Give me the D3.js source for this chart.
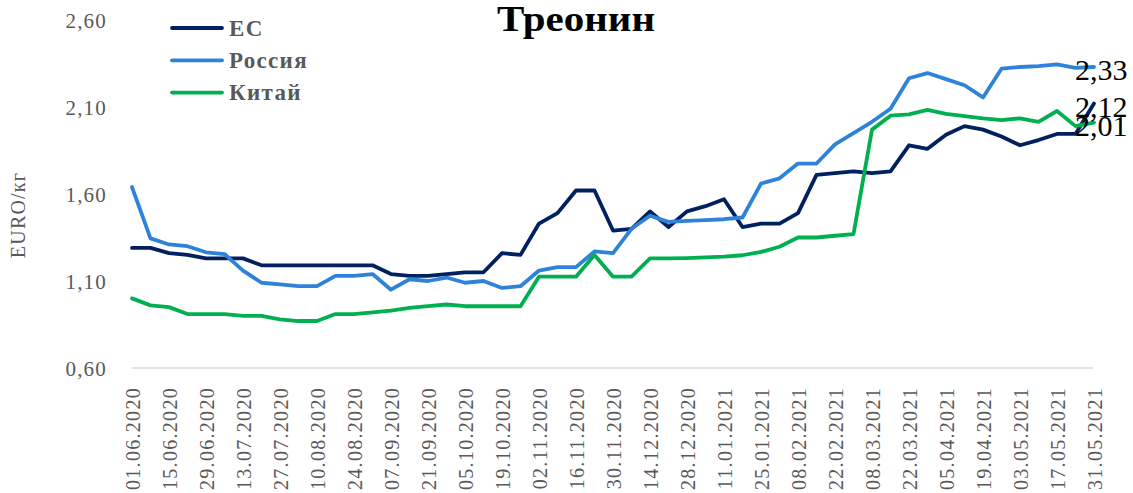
<!DOCTYPE html>
<html><head><meta charset="utf-8">
<script src="https://cdn.jsdelivr.net/npm/d3@7"></script>
<style>
html,body{margin:0;padding:0;background:#fff;}
svg{display:block;font-family:"Liberation Serif","Times New Roman",serif;}
</style></head>
<body><svg id="c" width="1133" height="493"></svg>
<script>
const dates = ["01.06.2020","08.06.2020","15.06.2020","22.06.2020","29.06.2020","06.07.2020","13.07.2020","20.07.2020","27.07.2020","03.08.2020","10.08.2020","17.08.2020","24.08.2020","31.08.2020","07.09.2020","14.09.2020","21.09.2020","28.09.2020","05.10.2020","12.10.2020","19.10.2020","26.10.2020","02.11.2020","09.11.2020","16.11.2020","23.11.2020","30.11.2020","07.12.2020","14.12.2020","21.12.2020","28.12.2020","04.01.2021","11.01.2021","18.01.2021","25.01.2021","01.02.2021","08.02.2021","15.02.2021","22.02.2021","01.03.2021","08.03.2021","15.03.2021","22.03.2021","29.03.2021","05.04.2021","12.04.2021","19.04.2021","26.04.2021","03.05.2021","10.05.2021","17.05.2021","24.05.2021","31.05.2021"];
const eu = [1.29,1.29,1.26,1.25,1.23,1.23,1.23,1.19,1.19,1.19,1.19,1.19,1.19,1.19,1.14,1.13,1.13,1.14,1.15,1.15,1.26,1.25,1.43,1.49,1.62,1.62,1.39,1.40,1.50,1.41,1.50,1.53,1.57,1.41,1.43,1.43,1.49,1.71,1.72,1.73,1.72,1.73,1.88,1.86,1.94,1.99,1.97,1.93,1.88,1.91,1.945,1.945,2.12];
const russia = [1.64,1.345,1.31,1.30,1.265,1.255,1.16,1.09,1.08,1.07,1.07,1.13,1.13,1.14,1.05,1.11,1.10,1.12,1.09,1.10,1.06,1.07,1.16,1.18,1.18,1.27,1.26,1.40,1.475,1.44,1.445,1.45,1.455,1.465,1.66,1.69,1.775,1.775,1.885,1.95,2.015,2.09,2.265,2.295,2.26,2.225,2.155,2.32,2.33,2.335,2.345,2.325,2.33];
const china = [1.00,0.96,0.95,0.91,0.91,0.91,0.90,0.90,0.88,0.87,0.87,0.91,0.91,0.92,0.93,0.945,0.955,0.965,0.955,0.955,0.955,0.955,1.125,1.125,1.125,1.25,1.125,1.125,1.23,1.23,1.232,1.236,1.24,1.248,1.267,1.297,1.35,1.35,1.36,1.37,1.97,2.05,2.058,2.083,2.06,2.048,2.035,2.025,2.035,2.014,2.077,1.99,2.01];
const seriesNames = ["ЕС","Россия","Китай"];
const seriesColors = ["#002060","#2E83D9","#00B050"];
const yTicks = [0.6,1.1,1.6,2.1,2.6];
const endLabels = ["2,33","2,12","2,01"];
const title = "Треонин";
const yTitle = "EURO/кг";

const svg = d3.select("#c");
const x = d3.scalePoint().domain(dates).range([132,1094]);
const y = d3.scaleLinear().domain([0.6,2.6]).range([368,20]);
const fmt = v => d3.format(".2f")(v).replace(".", ",");

// baseline axis
svg.append("line").attr("x1",132).attr("x2",1093).attr("y1",y(0.6)).attr("y2",y(0.6))
  .attr("stroke","#D9D9D9").attr("stroke-width",1.3);

// y axis
const ya = svg.append("g").attr("transform","translate(107,0)")
  .call(d3.axisLeft(y).tickValues(yTicks).tickSize(0).tickPadding(0).tickFormat(fmt));
ya.select(".domain").remove();
ya.selectAll("text").attr("font-family","Liberation Serif").attr("font-size",21)
  .attr("fill","#595959").attr("letter-spacing","1.2px").attr("dy","0.35em");

// x axis
const xa = svg.append("g").attr("transform",`translate(0,${y(0.6)})`)
  .call(d3.axisBottom(x).tickValues(dates.filter((d,i)=>i%2===0)).tickSize(0).tickPadding(0));
xa.select(".domain").remove();
xa.selectAll("text").attr("font-family","Liberation Serif").attr("font-size",20)
  .attr("fill","#595959").attr("letter-spacing","1.3px")
  .attr("transform","rotate(-90)").attr("text-anchor","end")
  .attr("x",-19).attr("y",0).attr("dy","0.35em");

// y title
svg.append("text").attr("transform","translate(25,215) rotate(-90)")
  .attr("text-anchor","middle").attr("font-size",20).attr("fill","#595959")
  .attr("letter-spacing","1.2px").text(yTitle);

// lines
const allSeries = [eu, russia, china];
const line = d3.line().x((d,i)=>x(dates[i])).y(d=>y(d));
allSeries.forEach((s,k)=>{
  svg.append("path").datum(s).attr("d",line).attr("fill","none")
    .attr("stroke",seriesColors[k]).attr("stroke-width",3.8)
    .attr("stroke-linejoin","round").attr("stroke-linecap","round");
});

// end labels
const lastX = x(dates[dates.length-1]);
[russia, eu, china].forEach((s,k)=>{
  svg.append("text").attr("x",lastX-19).attr("y",y(s[s.length-1])+3)
    .attr("dy","0.35em").attr("font-size",30).attr("fill","#000")
    .text(endLabels[k]);
});

// legend
const lg = svg.append("g");
seriesNames.forEach((n,k)=>{
  const ly = 28 + k*32.3;
  lg.append("line").attr("x1",172).attr("x2",222).attr("y1",ly).attr("y2",ly)
    .attr("stroke",seriesColors[k]).attr("stroke-width",3.8).attr("stroke-linecap","round");
  lg.append("text").attr("x",229).attr("y",ly).attr("dy","0.33em")
    .attr("font-size",23).attr("font-weight","bold").attr("fill","#595959")
    .attr("letter-spacing","1.3px").text(n);
});

// title
svg.append("text").attr("x",576).attr("y",31).attr("text-anchor","middle")
  .attr("font-size",35).attr("font-weight","bold").attr("fill","#000")
  .attr("textLength",158).attr("lengthAdjust","spacingAndGlyphs").text(title);
</script></body></html>
